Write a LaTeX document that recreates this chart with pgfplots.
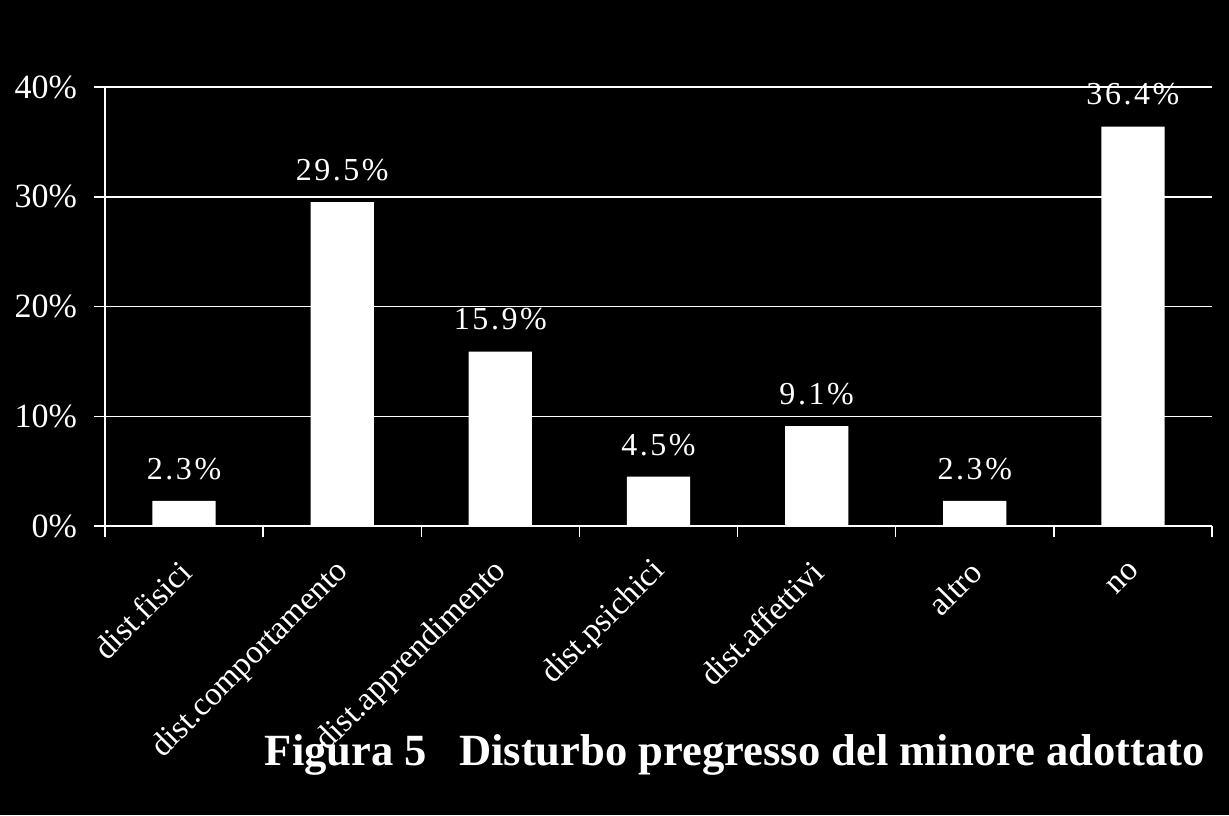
\documentclass[border=0pt]{standalone}
\usepackage{pgfplots}
\pgfplotsset{compat=1.18}
\usepackage{fontspec}
\setmainfont{Liberation Serif}
\newfontfamily\spaced[LetterSpace=8]{Liberation Serif}
\begin{document}
\begin{tikzpicture}[x=1pt,y=1pt]
\path[use as bounding box] (0,0) rectangle (614.5,407.5);
\fill[black] (0,0) rectangle (614.5,407.5);
\begin{axis}[
  at={(52.5pt,144.5pt)}, anchor=south west,
  width=553.5pt, height=219.5pt, scale only axis,
  xmin=-0.5, xmax=6.5, ymin=0, ymax=40,
  axis x line*=bottom, axis y line*=left,
  axis line style={white, line width=0.75pt},
  ymajorgrids, grid style={white, line width=0.75pt},
  ytick={0,10,20,30,40}, yticklabels={0\%,10\%,20\%,30\%,40\%},
  tick align=outside, major tick length=5.5pt,
  tick style={white, line width=0.75pt},
  xtick={0,1,2,3,4,5,6},
  xticklabels={dist.fisici,dist.comportamento,dist.apprendimento,dist.psichici,dist.affettivi,altro,no},
  xtick style={draw=none},
  extra x ticks={-0.5,0.5,1.5,2.5,3.5,4.5,5.5,6.5},
  extra x tick labels={},
  extra x tick style={xtick style={draw=white, line width=0.75pt}, xmajorgrids=false},
  xticklabel style={rotate=45, anchor=east, font=\fontsize{16.5}{19}\selectfont, white, yshift=-11pt, xshift=-6.5pt},
  yticklabel style={font=\fontsize{17}{20}\selectfont, white, xshift=-5pt},
  /pgf/number format/assume math mode=true,
  nodes near coords={\pgfmathprintnumber[fixed,fixed zerofill,precision=1]{\pgfplotspointmeta}\%},
  every node near coord/.append style={white, font=\spaced\fontsize{16}{19}\selectfont, yshift=7pt},
  clip=false,
]
\addplot[ybar, bar width=0.4, fill=white, draw=none] coordinates {
  (0,2.3) (1,29.5) (2,15.9) (3,4.5) (4,9.1) (5,2.3) (6,36.4)
};
\end{axis}
\node[anchor=base east, white, font=\bfseries\fontsize{22.3}{27}\selectfont] at (606,25) {Figura 5\hspace{16pt}Disturbo pregresso del minore adottato};
\end{tikzpicture}
\end{document}
